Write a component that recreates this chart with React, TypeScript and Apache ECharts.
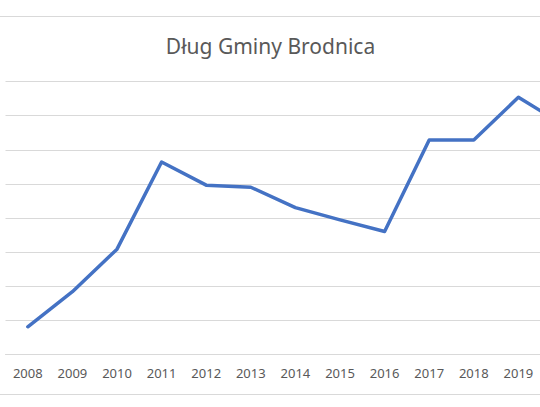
import React, { useEffect, useRef } from 'react';
import * as echarts from 'echarts';

// lata (2020 jest ucięty po prawej stronie obrazka)
const years = ['2008', '2009', '2010', '2011', '2012', '2013', '2014', '2015', '2016', '2017', '2018', '2019', '2020'];
// dług gminy (skala bez opisu osi)
const debt = [4.0, 9.15, 15.4, 28.2, 24.8, 24.5, 21.5, 19.7, 18.0, 31.45, 31.45, 37.7, 33.7];

const chartTitle = 'Dług Gminy Brodnica';
const visibleLabels = 12; // tylko 2008-2019 mieszczą się w kadrze

const App: React.FC = () => {
  const chartRef = useRef<HTMLDivElement>(null);

  useEffect(() => {
    const chart = echarts.init(chartRef.current!, null, { renderer: 'svg' });

    const options = {
      animation: false,
      backgroundColor: '#ffffff',
      grid: {
        left: 5.5,
        width: 579.8,
        top: 81.7,
        height: 272.3,
      },
      graphic: [
        {
          type: 'text',
          x: 270.5,
          y: 46,
          style: {
            text: chartTitle,
            align: 'center',
            verticalAlign: 'middle',
            fontFamily: 'Noto Sans',
            fontSize: 21,
            fill: '#595959',
          },
        },
        // ramka obszaru wykresu (góra i dół)
        {
          type: 'line',
          shape: { x1: 0, y1: 16.5, x2: 600, y2: 16.5 },
          style: { stroke: '#d9d9d9', lineWidth: 1 },
        },
        {
          type: 'line',
          shape: { x1: 0, y1: 394.5, x2: 600, y2: 394.5 },
          style: { stroke: '#d9d9d9', lineWidth: 1 },
        },
      ],
      xAxis: {
        type: 'category',
        data: years,
        boundaryGap: true,
        axisLine: { show: true, lineStyle: { color: '#d9d9d9', width: 1 } },
        axisTick: { show: false },
        axisLabel: {
          color: '#595959',
          fontFamily: 'Noto Sans',
          fontSize: 13,
          margin: 12,
          interval: (i: number) => i < visibleLabels,
        },
      },
      yAxis: {
        type: 'value',
        min: 0,
        max: 40,
        interval: 5,
        axisLabel: { show: false },
        axisLine: { show: false },
        axisTick: { show: false },
        splitLine: { lineStyle: { color: '#d9d9d9', width: 1 } },
      },
      series: [
        {
          type: 'line',
          data: debt,
          symbol: 'none',
          lineStyle: { color: '#4472c4', width: 3.5, cap: 'round', join: 'round' },
        },
      ],
    };

    chart.setOption(options);

    return () => {
      chart.dispose();
    };
  }, []);

  return (
    <div style={{ position: 'fixed', left: 0, top: 0, width: 540, height: 407, overflow: 'hidden', background: '#fff' }}>
      <div ref={chartRef} style={{ width: 600, height: 407 }} />
    </div>
  );
};

export default App;
